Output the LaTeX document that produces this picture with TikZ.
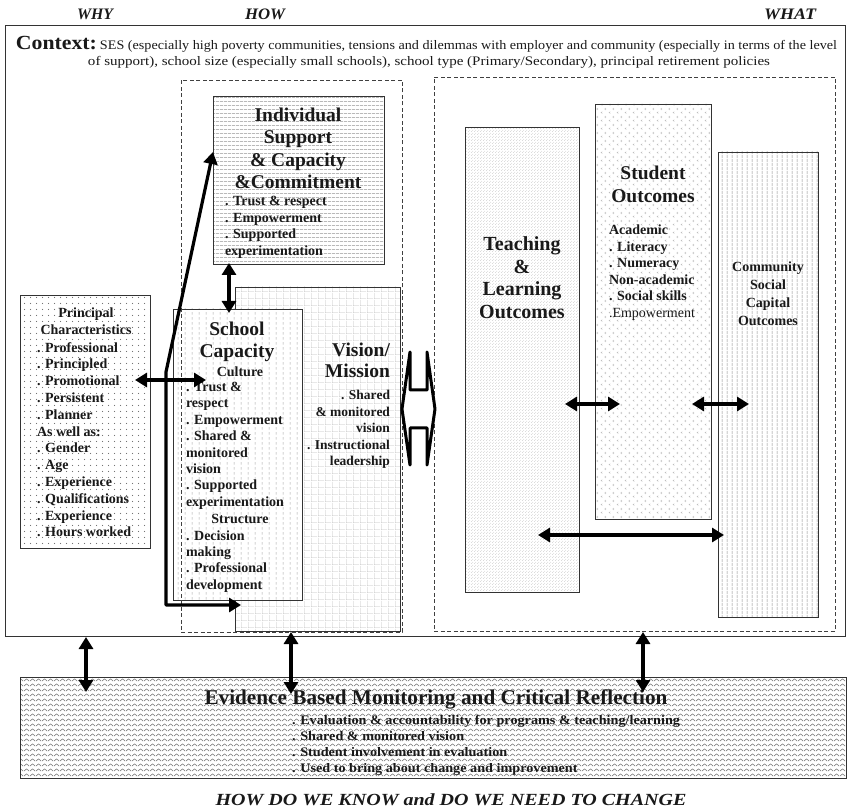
\documentclass[tikz,border=0pt]{standalone}
\usepackage{fontspec}
\setmainfont{Liberation Serif}
\usepackage{graphicx}
\usetikzlibrary{arrows.meta,patterns,patterns.meta,calc}
\newcommand{\fitw}[2]{\resizebox{#1}{\height}{#2}}

\tikzdeclarepattern{name=hl, type=uncolored, bounding box={(0pt,0pt) and (4pt,3.6pt)}, tile size={(4pt,3.6pt)},
  code={\draw[line width=0.45pt] (0pt,1.8pt) -- (4pt,1.8pt);}}
\tikzdeclarepattern{name=vl, type=uncolored, bounding box={(0pt,0pt) and (5pt,4pt)}, tile size={(5pt,4pt)},
  code={\draw[line width=0.55pt] (2.5pt,0pt) -- (2.5pt,4pt);}}
\tikzdeclarepattern{name=vdash, type=uncolored, bounding box={(0pt,0pt) and (7pt,5pt)}, tile size={(7pt,5pt)},
  code={\draw[line width=0.5pt] (3.5pt,0.5pt) -- (3.5pt,3.5pt);}}
\tikzdeclarepattern{name=gridp, type=uncolored, bounding box={(0pt,0pt) and (6.5pt,6.5pt)}, tile size={(6.5pt,6.5pt)},
  code={\draw[line width=0.4pt] (0pt,0.2pt) -- (6.5pt,0.2pt) (0.2pt,0pt) -- (0.2pt,6.5pt);}}
\tikzdeclarepattern{name=fdots, type=uncolored, bounding box={(0pt,0pt) and (3pt,3pt)}, tile size={(3pt,3pt)},
  code={\fill (0.75pt,0.75pt) circle (0.45pt); \fill (2.25pt,2.25pt) circle (0.45pt);}}
\tikzdeclarepattern{name=pdots, type=uncolored, bounding box={(0pt,0pt) and (5.5pt,5.5pt)}, tile size={(5.5pt,5.5pt)},
  code={\fill (2.75pt,2.75pt) circle (0.6pt);}}
\tikzdeclarepattern{name=chev, type=uncolored, bounding box={(0pt,0pt) and (8pt,8pt)}, tile size={(8pt,8pt)},
  code={\draw[line width=0.45pt] (2.6pt,0.6pt) -- (1.2pt,1.6pt) -- (2.6pt,2.6pt) (6.6pt,4.6pt) -- (5.2pt,5.6pt) -- (6.6pt,6.6pt);}}
\tikzdeclarepattern{name=zz, type=uncolored, bounding box={(0pt,0pt) and (6pt,4.8pt)}, tile size={(6pt,4.8pt)},
  code={\draw[line width=0.6pt] (0pt,1pt) -- (3pt,3.2pt) -- (6pt,1pt);}}

\tikzset{
  bx/.style={draw=black!80, line width=0.8pt, inner sep=0pt, outer sep=0pt, anchor=north west, preaction={fill=white}},
  dbx/.style={draw=black!75, line width=0.8pt, dash pattern=on 4pt off 2.5pt, inner sep=0pt, outer sep=0pt, anchor=north west},
  tx/.style={inner sep=0pt, outer sep=0pt, text=black!90},
  dblarr/.style={line width=3.2pt, black, {Triangle[length=12pt,width=14pt]}-{Triangle[length=12pt,width=14pt]}},
}

\begin{document}
\begin{tikzpicture}[x=1pt,y=-1pt]
\useasboundingbox (0,0) rectangle (847,810);

% ---------- boxes ----------
\node[bx, minimum width=840pt, minimum height=611pt] (ctx) at (5,25) {};
\node[dbx, minimum width=401pt, minimum height=554pt] (whatd) at (434,77) {};
\node[bx, pattern=hl, pattern color=black!42, minimum width=171pt, minimum height=168pt] (ind) at (213,96) {};
\node[bx, pattern=gridp, pattern color=black!25, minimum width=165pt, minimum height=344pt] (vis) at (235,287) {};
\node[bx, pattern=vdash, pattern color=black!35, minimum width=129pt, minimum height=291pt] (sch) at (173,309) {};
\node[bx, pattern=pdots, pattern color=black!60, minimum width=130pt, minimum height=253pt] (prin) at (20,295) {};
\node[bx, pattern=fdots, pattern color=black!28, minimum width=114pt, minimum height=465pt] (teach) at (465,127) {};
\node[bx, pattern=chev, pattern color=black!28, minimum width=116pt, minimum height=415pt] (stud) at (595,104) {};
\node[bx, pattern=vl, pattern color=black!45, minimum width=100pt, minimum height=465pt] (comm) at (718,152) {};
\node[bx, pattern=zz, pattern color=black!55, minimum width=826pt, minimum height=101pt] (evid) at (20,677) {};
\node[dbx, minimum width=221pt, minimum height=552pt] (howd) at (181,80) {};

% ---------- headings ----------
\node[tx, font=\fontsize{16}{16}\selectfont\bfseries\itshape] (why) at (95,14) {\fitw{36pt}{WHY}};
\node[tx, font=\fontsize{16}{16}\selectfont\bfseries\itshape] (how) at (265,14) {\fitw{40pt}{HOW}};
\node[tx, font=\fontsize{16}{16}\selectfont\bfseries\itshape] (what) at (790,14) {\fitw{52pt}{WHAT}};

\node[tx, anchor=base west] (ctxa) at (16,50) {\fitw{81pt}{\fontsize{20}{20}\selectfont\bfseries Context:}\hspace{3pt}\fitw{737pt}{\fontsize{13}{13}\selectfont SES (especially high poverty communities, tensions and dilemmas with employer and community (especially in terms of the level}};
\node[tx, anchor=base] (ctxb) at (429,66) {\fitw{682pt}{\fontsize{13}{13}\selectfont of support), school size (especially small schools), school type (Primary/Secondary), principal retirement policies}};

% ---------- principal (base anchor = last line) ----------
\node[tx, anchor=base, align=center, font=\fontsize{14}{16.8}\selectfont\bfseries] (pt) at (86,334.8) {Principal\\Characteristics};
\node[tx, anchor=base west, align=left, font=\fontsize{14}{16.8}\selectfont\bfseries] (pl) at (37,536.8) {. Professional\\. Principled\\. Promotional\\. Persistent\\. Planner\\As well as:\\. Gender\\. Age\\. Experience\\. Qualifications\\. Experience\\. Hours worked};

% ---------- school capacity ----------
\node[tx, anchor=base, align=center, font=\fontsize{19.5}{22}\selectfont\bfseries] (st) at (237,358) {School\\Capacity};
\node[tx, anchor=base, font=\fontsize{14}{16.4}\selectfont\bfseries] (sc1) at (240,376.5) {Culture};
\node[tx, anchor=base west, align=left, font=\fontsize{14}{16.4}\selectfont\bfseries] (sl1) at (186,506.3) {. Trust \&\\respect\\. Empowerment\\. Shared \&\\monitored\\vision\\. Supported\\experimentation};
\node[tx, anchor=base, font=\fontsize{14}{16.4}\selectfont\bfseries] (sc2) at (240,523.5) {Structure};
\node[tx, anchor=base west, align=left, font=\fontsize{14}{16.4}\selectfont\bfseries] (sl2) at (186,589.2) {. Decision\\making\\. Professional\\development};

% ---------- vision ----------
\node[tx, anchor=base east, align=right, font=\fontsize{19.5}{21}\selectfont\bfseries] (vt) at (390,378) {Vision/\\Mission};
\node[tx, anchor=base east, align=right, font=\fontsize{13.5}{16.5}\selectfont\bfseries] (vl) at (390,465.5) {. Shared\\\& monitored\\vision\\. Instructional\\leadership};

% ---------- individual ----------
\node[tx, anchor=base, align=center, font=\fontsize{19.5}{22.3}\selectfont\bfseries] (it) at (298,188.4) {Individual\\Support\\\& Capacity\\\&Commitment};
\node[tx, anchor=base west, align=left, font=\fontsize{14}{16.7}\selectfont\bfseries] (il) at (225,255.6) {. Trust \& respect\\. Empowerment\\. Supported\\experimentation};

% ---------- outcomes ----------
\node[tx, anchor=base, align=center, font=\fontsize{20}{22.7}\selectfont\bfseries] (tt) at (522,318.6) {Teaching\\\&\\Learning\\Outcomes};
\node[tx, anchor=base, align=center, font=\fontsize{19.5}{23}\selectfont\bfseries] (sut) at (653,202.5) {Student\\Outcomes};
\node[tx, anchor=base west, align=left, font=\fontsize{14}{16.6}\selectfont\bfseries] (sul) at (609,317.5) {Academic\\. Literacy\\. Numeracy\\Non-academic\\. Social skills\\{\mdseries .Empowerment}};
\node[tx, anchor=base, align=center, font=\fontsize{14}{18}\selectfont\bfseries] (ct) at (768,325.5) {Community\\Social\\Capital\\Outcomes};

% ---------- evidence ----------
\node[tx, anchor=base] (et) at (436,704) {\fitw{463pt}{\fontsize{21}{21}\selectfont\bfseries Evidence Based Monitoring and Critical Reflection}};
\node[tx, anchor=base west] (el) at (292,724) {\fontsize{13}{16}\selectfont\bfseries\fitw{388pt}{\begin{tabular}[t]{@{}l@{}}. Evaluation \& accountability for programs \& teaching/learning\\. Shared \& monitored vision\\. Student involvement in evaluation\\. Used to bring about change and improvement\end{tabular}}};
\node[tx] (bot) at (451,800) {\fitw{471pt}{\fontsize{17}{17}\selectfont\bfseries\itshape HOW DO WE KNOW and DO WE NEED TO CHANGE}};

% ---------- connectors ----------
\coordinate (pa) at (135,380); \coordinate (pb) at (206,380);
\draw[dblarr] (pa) -- (pb);
\coordinate (la) at (213,152); \coordinate (lc1) at (166,372); \coordinate (lc2) at (166,605); \coordinate (lb) at (241,605);
\draw[dblarr, line join=round] (la) -- (lc1) -- (lc2) -- (lb);
\coordinate (ia) at (229,263); \coordinate (ib) at (229,313);
\draw[dblarr] (ia) -- (ib);
\coordinate (ts1) at (565,404); \coordinate (ts2) at (620,404);
\draw[dblarr] (ts1) -- (ts2);
\coordinate (sc1a) at (692,404); \coordinate (sc2a) at (749,404);
\draw[dblarr] (sc1a) -- (sc2a);
\coordinate (tc1) at (538,535); \coordinate (tc2) at (724,535);
\draw[dblarr] (tc1) -- (tc2);
\coordinate (e1a) at (86,637); \coordinate (e1b) at (86,692);
\draw[dblarr] (e1a) -- (e1b);
\coordinate (e2a) at (291,632); \coordinate (e2b) at (291,694);
\draw[dblarr] (e2a) -- (e2b);
\coordinate (e3a) at (643,632); \coordinate (e3b) at (643,692);
\draw[dblarr] (e3a) -- (e3b);

% ---------- block double arrow between HOW and WHAT ----------
\draw[line width=3pt, fill=white, line join=round] (402,409) -- (410,352) -- (410,390) -- (427,390) -- (427,352) -- (435,409) -- (427,465) -- (427,428) -- (410,428) -- (410,465) -- cycle;
\end{tikzpicture}
\end{document}
